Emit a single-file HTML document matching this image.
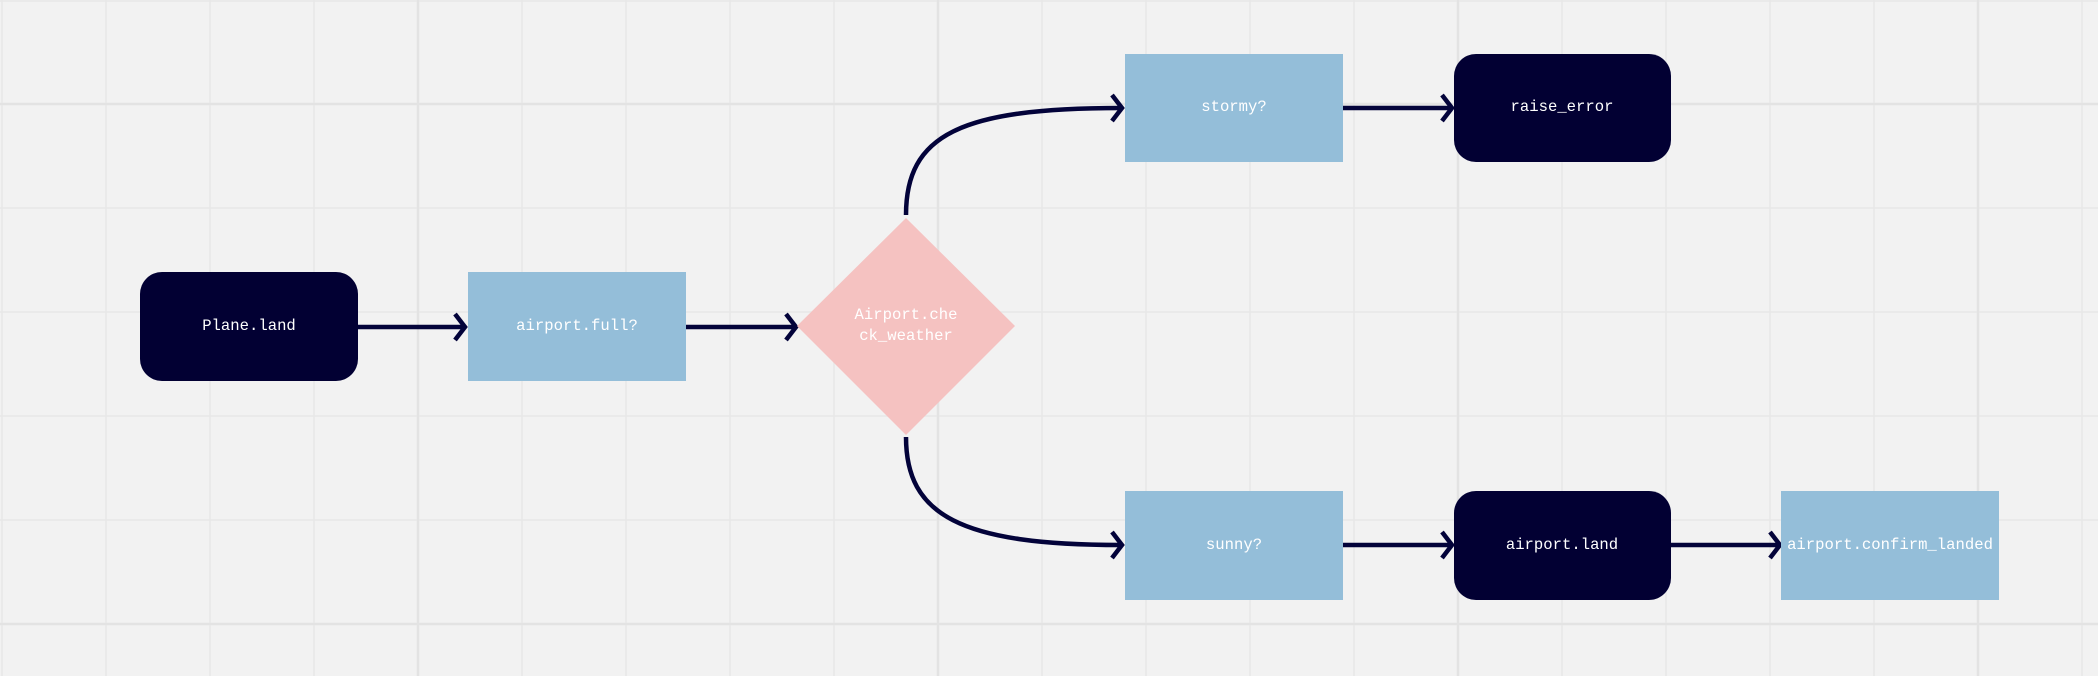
<!DOCTYPE html>
<html><head><meta charset="utf-8"><style>
html,body{margin:0;padding:0;background:#f2f2f2;}
svg{display:block}
text{font-family:"Liberation Mono",monospace;font-size:15.6px;fill:#fff;text-anchor:middle;dominant-baseline:central}
</style></head><body>
<svg width="2098" height="676" viewBox="0 0 2098 676" xmlns="http://www.w3.org/2000/svg">
<rect width="2098" height="676" fill="#f2f2f2"/>
<g stroke="#e8e8e8" stroke-width="1.5">
<line x1="2" y1="0" x2="2" y2="676"/><line x1="106" y1="0" x2="106" y2="676"/><line x1="210" y1="0" x2="210" y2="676"/><line x1="314" y1="0" x2="314" y2="676"/>
<line x1="522" y1="0" x2="522" y2="676"/><line x1="626" y1="0" x2="626" y2="676"/><line x1="730" y1="0" x2="730" y2="676"/><line x1="834" y1="0" x2="834" y2="676"/>
<line x1="1042" y1="0" x2="1042" y2="676"/><line x1="1146" y1="0" x2="1146" y2="676"/><line x1="1250" y1="0" x2="1250" y2="676"/><line x1="1354" y1="0" x2="1354" y2="676"/>
<line x1="1562" y1="0" x2="1562" y2="676"/><line x1="1666" y1="0" x2="1666" y2="676"/><line x1="1770" y1="0" x2="1770" y2="676"/><line x1="1874" y1="0" x2="1874" y2="676"/>
<line x1="2082" y1="0" x2="2082" y2="676"/>
<line x1="0" y1="1" x2="2098" y2="1"/><line x1="0" y1="208" x2="2098" y2="208"/><line x1="0" y1="312" x2="2098" y2="312"/><line x1="0" y1="416" x2="2098" y2="416"/><line x1="0" y1="520" x2="2098" y2="520"/>
</g>
<g stroke="#e3e3e3" stroke-width="2.5">
<line x1="418" y1="0" x2="418" y2="676"/><line x1="938" y1="0" x2="938" y2="676"/><line x1="1458" y1="0" x2="1458" y2="676"/><line x1="1978" y1="0" x2="1978" y2="676"/>
<line x1="0" y1="104" x2="2098" y2="104"/><line x1="0" y1="624" x2="2098" y2="624"/>
</g>
<!-- connectors -->
<g stroke="#03033a" stroke-width="4.5" fill="none" stroke-linejoin="miter">
<line x1="358" y1="327" x2="464" y2="327"/><polyline points="455,314 465,327 455,340"/>
<line x1="686" y1="327" x2="795" y2="327"/><polyline points="786,314 796,327 786,340"/>
<path d="M906 215 C906 135 960 108 1121 108"/><polyline points="1112,95 1122,108 1112,121"/>
<path d="M906 437 C906 515 960 545 1121 545"/><polyline points="1112,532 1122,545 1112,558"/>
<line x1="1343" y1="108" x2="1451" y2="108"/><polyline points="1442,95 1452,108 1442,121"/>
<line x1="1343" y1="545" x2="1451" y2="545"/><polyline points="1442,532 1452,545 1442,558"/>
<line x1="1671" y1="545" x2="1779" y2="545"/><polyline points="1770,532 1780,545 1770,558"/>
</g>
<!-- nodes -->
<rect x="140" y="272" width="218" height="109" rx="22" fill="#020033"/>
<text x="249" y="326">Plane.land</text>
<rect x="468" y="272" width="218" height="109" fill="#94bed9"/>
<text x="577" y="326">airport.full?</text>
<polygon points="906,218 1015,326 906,435 797,326" fill="#f5c2c1"/>
<text x="906" y="315">Airport.che</text>
<text x="906" y="336">ck_weather</text>
<rect x="1125" y="54" width="218" height="108" fill="#94bed9"/>
<text x="1234" y="107">stormy?</text>
<rect x="1454" y="54" width="217" height="108" rx="22" fill="#020033"/>
<text x="1562" y="107">raise_error</text>
<rect x="1125" y="491" width="218" height="109" fill="#94bed9"/>
<text x="1234" y="545">sunny?</text>
<rect x="1454" y="491" width="217" height="109" rx="22" fill="#020033"/>
<text x="1562" y="545">airport.land</text>
<rect x="1781" y="491" width="218" height="109" fill="#94bed9"/>
<text x="1890" y="545">airport.confirm_landed</text>
</svg>
</body></html>
